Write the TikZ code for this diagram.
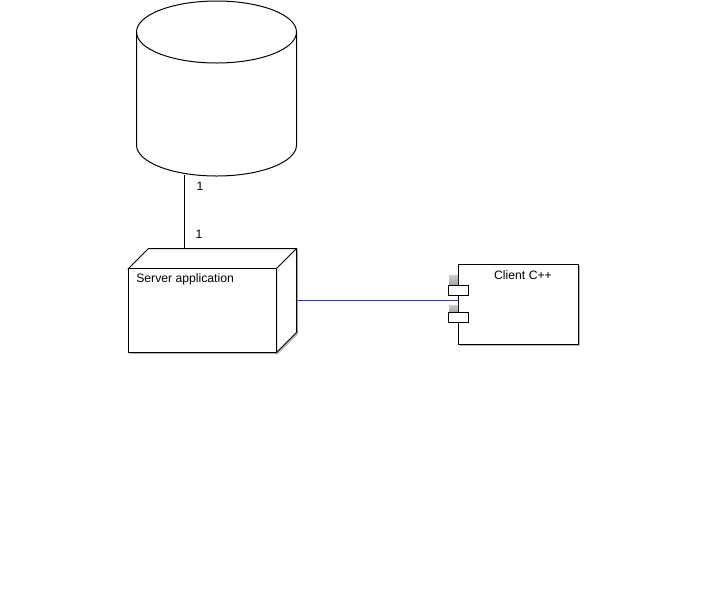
\documentclass[tikz,border=0pt]{standalone}
\usepackage{fontspec}
\setmainfont{Liberation Sans}
\definecolor{shadowgray}{gray}{0.72}
\definecolor{portgray}{gray}{0.64}
\definecolor{linkblue}{RGB}{50,50,170}
\tikzset{
  x=0.75pt,y=-0.75pt,
  ink/.style={draw=black,line width=0.75pt},
  txt/.style={inner sep=0pt,font=\fontsize{9.15pt}{11pt}\selectfont},
  box/.style={ink,fill=white,inner sep=0pt,outer sep=0pt,anchor=north west},
  shadowfill/.style={fill=shadowgray,draw=none},
  portshade/.style={top color=portgray!55!white,bottom color=portgray,draw=none}
}
\begin{document}
\begin{tikzpicture}
\useasboundingbox (0,0) rectangle (706,608);
% database cylinder
\draw[ink] (136.5,32) -- (136.5,145) arc[start angle=180,end angle=0,x radius=80,y radius=31] -- (296.5,32);
\draw[ink] (216.5,32) ellipse[x radius=80,y radius=31];
\coordinate (dbout) at (184.5,175);
% server node (3D box)
\fill[shadowfill] (130,352) -- (130,354) -- (278,354) -- (298,334) -- (298,250) -- (296,250) -- (296,332) -- (276,352) -- cycle;
\draw[ink,fill=white] (128.5,268.5) -- (148.5,248.5) -- (296.5,248.5) -- (296.5,332.5) -- (276.5,352.5) -- (276.5,268.5) -- cycle;
\draw[ink] (276.5,268.5) -- (296.5,248.5);
\node[box,minimum width=111pt,minimum height=63pt] (server) at (128.5,268.5) {};
\coordinate (srvtop) at (184.5,248.5);
\coordinate (srvright) at (296.5,300.5);
% client component
\fill[shadowfill] (460,266) rectangle (580,346);
\node[box,minimum width=90pt,minimum height=60pt] (client) at (458.5,264.5) {};
\coordinate (clientleft) at (458.5,300.5);
\path[portshade] (449,275) rectangle (458,285);
\path[portshade] (449,305) rectangle (458,312);
\node[box,minimum width=15pt,minimum height=7.5pt] (porta) at (448.5,285.5) {};
\node[box,minimum width=15pt,minimum height=7.5pt] (portb) at (448.5,312.5) {};
% connectors
\draw[ink] (dbout) -- (srvtop);
\draw[draw=linkblue,line width=0.75pt] (srvright) -- (clientleft);
% labels
\node[txt,anchor=west] (srvlabel) at (136,279) {Server application};
\node[txt] (clientlabel) at (523,275) {Client C++};
\node[txt] (one1) at (200,186) {1};
\node[txt] (one2) at (199,234) {1};
\end{tikzpicture}
\end{document}
